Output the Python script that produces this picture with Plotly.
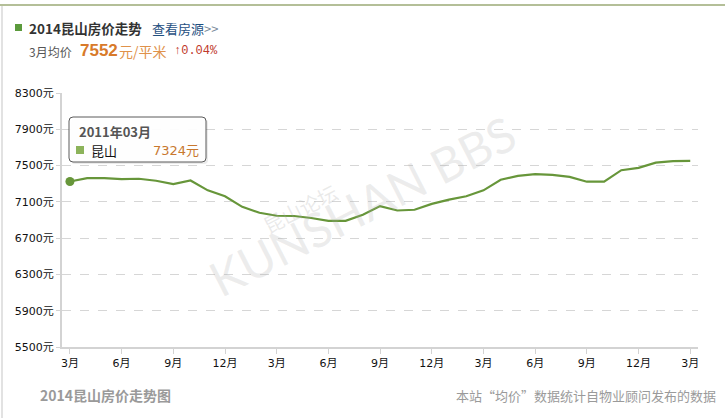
import plotly.graph_objects as go

# ---------------- data ----------------
months = [f"{2011 + (2 + i) // 12}年{(2 + i) % 12 + 1:02d}月" for i in range(37)]
prices = [7324, 7362, 7362, 7351, 7355, 7333, 7296, 7336, 7227, 7162, 7045, 6980,
          6947, 6944, 6922, 6890, 6890, 6958, 7053, 7005, 7013, 7078, 7125, 7162,
          7227, 7344, 7387, 7405, 7398, 7376, 7322, 7322, 7449, 7475, 7533, 7549, 7552]
tick_idx = list(range(0, 37, 3))
tick_labels = ["3月", "6月", "9月", "12月"] * 3 + ["3月"]
y_ticks = [5500, 5900, 6300, 6700, 7100, 7500, 7900, 8300]
y_tick_labels = [f"{v}元" for v in y_ticks]
series_name = "昆山"
title_text = "2014昆山房价走势"
current_month = "3月"
current_price = 7552
change_pct = "0.04%"

W, H = 727, 418
L, R, T, B = 62, 698, 93, 347


def px(x):
    return (x - L) / (R - L)


def py(y):
    return (B - y) / (B - T)


CJK = "DejaVu Sans, Noto Sans CJK SC, sans-serif"
CJKN = "Noto Sans CJK SC, DejaVu Sans, sans-serif"
GREEN = "#67963a"

fig = go.Figure()
fig.add_trace(go.Scatter(
    x=months, y=prices, mode="lines", name=series_name,
    line=dict(color=GREEN, width=2.2), hoverinfo="skip"))
fig.add_trace(go.Scatter(
    x=[months[0]], y=[prices[0]], mode="markers",
    marker=dict(color=GREEN, size=9), hoverinfo="skip"))

fig.update_layout(
    width=W, height=H, showlegend=False,
    paper_bgcolor="white", plot_bgcolor="white",
    margin=dict(l=L, r=W - R, t=T, b=H - B),
    font=dict(family=CJK, size=11, color="#222"),
    xaxis=dict(type="category", range=[-0.46, 36.45],
               tickmode="array", tickvals=[months[i] for i in tick_idx], ticktext=tick_labels,
               showgrid=False, showline=True, linecolor="#d3d3d3", linewidth=2,
               ticks="outside", ticklen=5, tickcolor="#d3d3d3", tickwidth=1,
               tickfont=dict(size=11, color="#111", family=CJK), zeroline=False,
               fixedrange=True),
    yaxis=dict(range=[5500, 8300], tickmode="array", tickvals=y_ticks, ticktext=y_tick_labels,
               showgrid=True, gridcolor="#d6d6d6", griddash="dash", gridwidth=1,
               showline=True, linecolor="#d3d3d3", linewidth=2,
               ticks="outside", ticklen=4, tickcolor="#d3d3d3",
               tickfont=dict(size=11, color="#111", family=CJK), zeroline=False,
               fixedrange=True),
)

shapes = []
# outer frame lines
shapes.append(dict(type="line", xref="paper", yref="paper", x0=px(0), x1=px(725), y0=py(5), y1=py(5),
                   line=dict(color="#b4bf98", width=2)))
shapes.append(dict(type="line", xref="paper", yref="paper", x0=px(2), x1=px(2), y0=py(6), y1=py(418),
                   line=dict(color="#e2e2e2", width=2)))
# header square
shapes.append(dict(type="rect", xref="paper", yref="paper", x0=px(15), x1=px(22), y0=py(31), y1=py(24),
                   fillcolor="#5b9a3c", line=dict(width=0)))


# tooltip box (rounded)
def rrect(x0, y0, x1, y1, r):
    pts = [
        f"M{px(x0 + r)},{py(y0)}", f"L{px(x1 - r)},{py(y0)}",
        f"Q{px(x1)},{py(y0)} {px(x1)},{py(y0 + r)}", f"L{px(x1)},{py(y1 - r)}",
        f"Q{px(x1)},{py(y1)} {px(x1 - r)},{py(y1)}", f"L{px(x0 + r)},{py(y1)}",
        f"Q{px(x0)},{py(y1)} {px(x0)},{py(y1 - r)}", f"L{px(x0)},{py(y0 + r)}",
        f"Q{px(x0)},{py(y0)} {px(x0 + r)},{py(y0)}", "Z"]
    return " ".join(pts)


shapes.append(dict(type="path", xref="paper", yref="paper", path=rrect(71, 119, 208, 164, 4),
                   fillcolor="rgba(0,0,0,0.08)", line=dict(width=0)))
shapes.append(dict(type="path", xref="paper", yref="paper", path=rrect(69, 117, 206, 162, 4),
                   fillcolor="rgba(255,255,255,0.95)", line=dict(color="#5a5a5a", width=1)))
shapes.append(dict(type="rect", xref="paper", yref="paper", x0=px(76), x1=px(84), y0=py(154), y1=py(146),
                   fillcolor="#8cb35a", line=dict(width=0)))
fig.update_layout(shapes=shapes)


def ann(text, x, y, size, color, xanchor="left", family=CJKN, **kw):
    fig.add_annotation(text=text, xref="paper", yref="paper", x=px(x), y=py(y),
                       xanchor=xanchor, yanchor="middle", showarrow=False,
                       font=dict(size=size, color=color, family=family), **kw)


# header
ann(f"<b>{title_text}</b>", 27, 28, 13.5, "#333")
ann("查看房源<span style='color:#7a8a9a'>&gt;&gt;</span>", 150, 28, 13, "#1f4f7f")
ann(f"{current_month}均价", 27, 51, 12, "#555")
ann(f"<b>{current_price}</b>", 78, 50, 17, "#d87a2a", family="Liberation Sans, Arial, sans-serif")
ann("元/平米", 117, 51, 14, "#e0924a")
ann(f"↑{change_pct}", 172, 51, 12, "#c0392b", family="Liberation Mono, DejaVu Sans Mono, monospace")

# tooltip text
ann(f"<b>{months[0]}</b>", 77, 131, 13, "#555")
ann(series_name, 89, 150, 13, "#111")
ann(f"{prices[0]}元", 201, 150, 13, "#c8782f", xanchor="right", family=CJK)

# watermark
fig.add_annotation(text="KUNSHAN BBS", xref="paper", yref="paper", x=px(362), y=py(205),
                   xanchor="center", yanchor="middle", showarrow=False, textangle=-27,
                   font=dict(size=48, color="rgba(170,170,170,0.22)", family="DejaVu Sans ExtraLight, Lato, sans-serif"))
fig.add_annotation(text="昆山论坛", xref="paper", yref="paper", x=px(300), y=py(208),
                   xanchor="center", yanchor="middle", showarrow=False, textangle=-27,
                   font=dict(size=20, color="rgba(170,170,170,0.25)", family=CJKN))

# footer
ann("<b>2014昆山房价走势图</b>", 38, 395, 14, "#9a9a9a")
ann("本站“均价”数据统计自物业顾问发布的数据", 718, 395, 13, "#9a9a9a", xanchor="right")

fig.write_html("out.html", config={"displayModeBar": False},
               post_script="document.body.style.margin='0px';document.body.style.overflow='hidden';")
